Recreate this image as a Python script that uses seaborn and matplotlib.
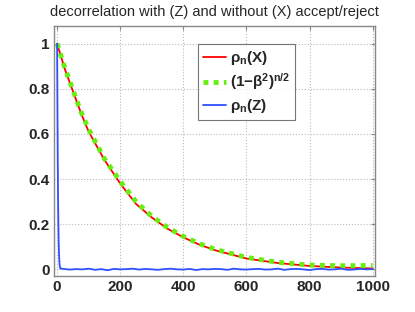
import numpy as np
import pandas as pd
import matplotlib
matplotlib.use('Agg')
import matplotlib.pyplot as plt
import seaborn as sns

# values
n_smooth = [0, 25, 50, 75, 100, 150, 200, 250, 300, 350, 400, 450, 500, 600, 700, 800, 900, 1000]
rho_x = [1.0, 0.885, 0.79, 0.695, 0.61, 0.485, 0.38, 0.29, 0.23, 0.18, 0.142, 0.11, 0.085, 0.048, 0.028, 0.015, 0.008, 0.004]
theory = [1.0, 0.89, 0.795, 0.70, 0.62, 0.49, 0.39, 0.30, 0.235, 0.185, 0.146, 0.114, 0.089, 0.053, 0.031, 0.019, 0.016, 0.017]

n_head = [0, 1, 2, 3, 4, 5, 6, 7, 8, 9, 10]
rho_z_head = [1.0, 0.74, 0.5, 0.32, 0.2, 0.12, 0.07, 0.04, 0.02, 0.01, 0.004]
n_tail = list(range(20, 1001, 20))
rho_z_tail = [0.002, -0.001, 0.001, 0.0, 0.003, -0.002, 0.001, -0.004, 0.002, 0.0,
              0.001, 0.003, -0.001, 0.002, 0.0, -0.002, 0.001, 0.003, 0.0, -0.001,
              0.002, -0.003, 0.001, 0.0, 0.002, 0.001, -0.002, 0.003, 0.0, -0.001,
              0.001, 0.002, -0.001, 0.0, 0.003, -0.002, 0.001, 0.002, 0.0, -0.003,
              0.001, 0.002, -0.001, 0.0, 0.003, -0.002, -0.001, 0.002, 0.0, 0.001]

smooth = pd.DataFrame({'n': n_smooth, 'x': rho_x, 'theory': theory})
z = pd.DataFrame({'n': n_head + n_tail, 'z': rho_z_head + rho_z_tail})

sns.set_style('white')
plt.rcParams['font.family'] = ['Liberation Sans', 'DejaVu Sans']
plt.rcParams['mathtext.fontset'] = 'custom'
plt.rcParams['mathtext.bf'] = 'Liberation Sans:bold'
plt.rcParams['mathtext.rm'] = 'Liberation Sans:bold'
plt.rcParams['mathtext.it'] = 'Liberation Sans:bold'
plt.rcParams['mathtext.default'] = 'bf'

fig = plt.figure(figsize=(4.15, 3.12), dpi=100)
ax = fig.add_axes([0.130, 0.115, 0.774, 0.803])

sns.lineplot(data=smooth, x='n', y='x', color='#ff0000', lw=1.3, ax=ax, label=r'$\rho_n$(X)')
sns.lineplot(data=smooth, x='n', y='theory', color='#66ee11', lw=3.5, ax=ax,
             linestyle=(0, (1.0, 1.1)), label=r'(1$-\beta^2)^{n/2}$')
sns.lineplot(data=z, x='n', y='z', color='#3050ff', lw=1.3, ax=ax, label=r'$\rho_n$(Z)')

ax.set_xlim(-10, 1008)
ax.set_ylim(-0.03, 1.08)
ax.set_xticks([0, 200, 400, 600, 800, 1000])
ax.set_yticks([0, 0.2, 0.4, 0.6, 0.8, 1])
ax.set_yticklabels(['0', '0.2', '0.4', '0.6', '0.8', '1'])
ax.set_xlabel('')
ax.set_ylabel('')
ax.grid(True, color='#bbbbbb', linestyle=':', lw=0.8)
for s in ax.spines.values():
    s.set_color('#888888')
    s.set_linewidth(1.0)
ax.tick_params(direction='in', length=3, color='#888888', top=True, right=True,
               labelsize=11, pad=3)
for lab in ax.get_xticklabels() + ax.get_yticklabels():
    lab.set_fontweight('bold')

ax.set_title('decorrelation with (Z) and without (X) accept/reject', fontsize=10.5, pad=7)

leg = ax.legend(loc='upper left', bbox_to_anchor=(0.449, 0.925), prop={'weight': 'bold', 'size': 11},
                frameon=True, fancybox=False, handlelength=1.5, handletextpad=0.3,
                labelspacing=0.3, borderpad=0.3, borderaxespad=0)
leg.get_frame().set_edgecolor('#555555')
leg.get_frame().set_linewidth(0.8)

fig.savefig('out.png', dpi=100)
